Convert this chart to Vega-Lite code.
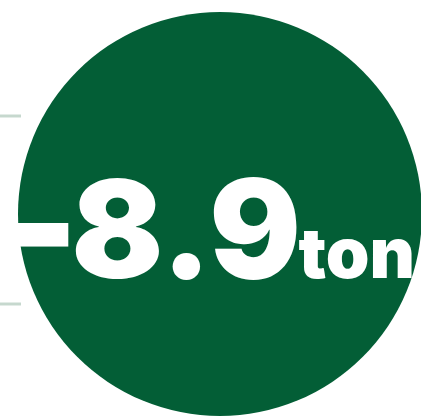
{
  "$schema": "https://vega.github.io/schema/vega-lite/v6.json",
  "width": 421,
  "height": 418,
  "padding": 0,
  "autosize": "none",
  "background": "#ffffff",
  "config": {"view": {"stroke": null}},
  "data": {"values": [{"sign": "-", "number": "8.9", "unit": "ton"}]},
  "encoding": {
    "x": {"type": "quantitative", "scale": {"domain": [0, 421], "nice": false, "zero": false}, "axis": null},
    "y": {"type": "quantitative", "scale": {"domain": [0, 418], "reverse": true, "nice": false, "zero": false}, "axis": null}
  },
  "layer": [
    {
      "mark": {"type": "rule", "color": "#c6d8ce", "strokeWidth": 3},
      "encoding": {"x": {"datum": 0}, "x2": {"datum": 21}, "y": {"datum": 116}}
    },
    {
      "mark": {"type": "rule", "color": "#c6d8ce", "strokeWidth": 3},
      "encoding": {"x": {"datum": 0}, "x2": {"datum": 21}, "y": {"datum": 304}}
    },
    {
      "mark": {"type": "point", "shape": "circle", "filled": true, "color": "#035e36", "opacity": 1, "size": 163216},
      "encoding": {"x": {"datum": 220}, "y": {"datum": 214}}
    },
    {
      "mark": {"type": "text", "font": "Inter", "fontWeight": 900, "fontSize": 160, "color": "#ffffff", "align": "right", "baseline": "alphabetic"},
      "encoding": {"x": {"datum": 79}, "y": {"datum": 281}, "text": {"field": "sign"}}
    },
    {
      "mark": {"type": "text", "font": "Inter", "fontWeight": 900, "fontSize": 136, "color": "#ffffff", "align": "right", "baseline": "alphabetic"},
      "encoding": {"x": {"datum": 301}, "y": {"datum": 278}, "text": {"field": "number"}}
    },
    {
      "mark": {"type": "text", "font": "Inter", "fontWeight": 900, "fontSize": 70, "color": "#ffffff", "align": "right", "baseline": "alphabetic"},
      "encoding": {"x": {"datum": 415}, "y": {"datum": 278}, "text": {"field": "unit"}}
    }
  ]
}
